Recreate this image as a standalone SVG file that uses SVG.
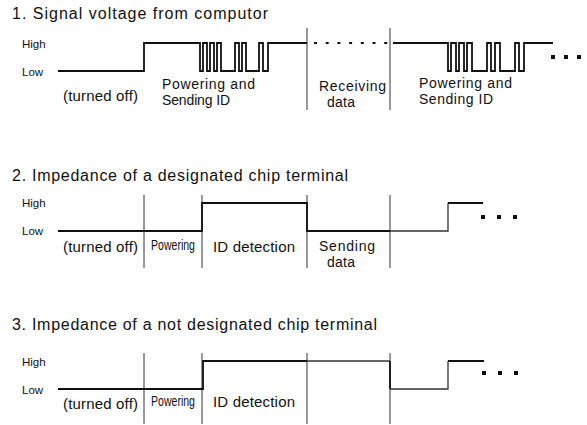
<svg xmlns="http://www.w3.org/2000/svg" width="587" height="425" viewBox="0 0 587 425">
<style>
text{font-family:"Liberation Sans",Arial,sans-serif;fill:#111;}
.t{font-size:16px;}
.l{font-size:15px;}
.m{font-size:14px;}
.p{font-size:15px;}
.hl{font-size:11.5px;}
.sig{fill:none;stroke:#111;stroke-width:1.8;stroke-linejoin:miter;}
.sig2{fill:none;stroke:#333;stroke-width:1.3;}
.div{stroke:#333;stroke-width:1;fill:none;}
.dot{fill:#111;}
</style>
<rect width="587" height="425" fill="#fff"/>

<g id="section1">
  <text class="t" x="12" y="19" textLength="256" lengthAdjust="spacing">1. Signal voltage from computor</text>
  <text class="hl" x="22" y="48">High</text>
  <text class="hl" x="22" y="76">Low</text>
  <g id="s1-dividers">
    <line class="div" x1="307" y1="28" x2="307" y2="110"/>
    <line class="div" x1="390" y1="28" x2="390" y2="110"/>
  </g>
  <g id="s1-signal">
    <path class="sig" d="M58,71 H144 V43 H200 V71 H203 V43 H207 V71 H210 V43 H214 V71 H217 V43 H221 V71 H235 V43 H239 V71 H242 V43 H246 V71 H259 V43 H263 V71 H268 V43 H307"/>
    <line x1="314" y1="43" x2="390" y2="43" stroke="#111" stroke-width="1.8" stroke-dasharray="3 8.7"/>
    <path class="sig" d="M393,43 H448 V71 H451 V43 H456 V71 H459 V43 H464 V71 H467 V43 H472 V71 H487 V43 H491 V71 H495 V43 H500 V71 H515 V43 H519 V71 H524 V43 H553"/>
    <rect class="dot" x="551" y="55" width="4" height="4"/>
    <rect class="dot" x="564" y="55" width="4" height="4"/>
    <rect class="dot" x="577" y="55" width="4" height="4"/>
  </g>
  <text class="l" x="63" y="101" textLength="75" lengthAdjust="spacing">(turned off)</text>
  <text class="m" x="162" y="89" textLength="93" lengthAdjust="spacing">Powering and</text>
  <text class="m" x="162" y="105" textLength="68" lengthAdjust="spacing">Sending ID</text>
  <text class="m" x="319" y="91" textLength="67" lengthAdjust="spacing">Receiving</text>
  <text class="m" x="327" y="107" textLength="28" lengthAdjust="spacing">data</text>
  <text class="m" x="419" y="88" textLength="93" lengthAdjust="spacing">Powering and</text>
  <text class="m" x="419" y="104" textLength="74" lengthAdjust="spacing">Sending ID</text>
</g>

<g id="section2">
  <text class="t" x="12" y="181" textLength="336" lengthAdjust="spacing">2. Impedance of a designated chip terminal</text>
  <text class="hl" x="22" y="207">High</text>
  <text class="hl" x="22" y="235">Low</text>
  <g id="s2-dividers">
    <line class="div" x1="144" y1="195" x2="144" y2="268"/>
    <line class="div" x1="202" y1="195" x2="202" y2="268"/>
    <line class="div" x1="307" y1="195" x2="307" y2="268"/>
    <line class="div" x1="390" y1="195" x2="390" y2="268"/>
  </g>
  <g id="s2-signal">
    <path class="sig" d="M58,231 H202 V203 H307 V231 H390"/>
    <path class="sig2" d="M390,231 H448 V203"/>
    <path class="sig" d="M448,203 H483"/>
    <rect class="dot" x="481" y="215" width="4" height="4"/>
    <rect class="dot" x="497" y="215" width="4" height="4"/>
    <rect class="dot" x="513" y="215" width="4" height="4"/>
  </g>
  <text class="l" x="63" y="252" textLength="75" lengthAdjust="spacing">(turned off)</text>
  <text class="p" x="151" y="250" textLength="44" lengthAdjust="spacingAndGlyphs">Powering</text>
  <text class="l" x="213" y="252" textLength="82" lengthAdjust="spacing">ID detection</text>
  <text class="m" x="319" y="251" textLength="56" lengthAdjust="spacing">Sending</text>
  <text class="m" x="327" y="267" textLength="28" lengthAdjust="spacing">data</text>
</g>

<g id="section3">
  <text class="t" x="12" y="330" textLength="365" lengthAdjust="spacing">3. Impedance of a not designated chip terminal</text>
  <text class="hl" x="22" y="366">High</text>
  <text class="hl" x="22" y="394">Low</text>
  <g id="s3-dividers">
    <line class="div" x1="144" y1="353" x2="144" y2="424"/>
    <line class="div" x1="202" y1="353" x2="202" y2="424"/>
    <line class="div" x1="307" y1="353" x2="307" y2="424"/>
    <line class="div" x1="390" y1="353" x2="390" y2="424"/>
  </g>
  <g id="s3-signal">
    <path class="sig" d="M58,389 H203 V361 H307"/>
    <path class="sig2" d="M307,361 H390"/>
    <path class="sig" d="M390,361 V389"/>
    <path class="sig2" d="M390,389 H448 V361"/>
    <path class="sig" d="M448,361 H484"/>
    <rect class="dot" x="482" y="371" width="4" height="4"/>
    <rect class="dot" x="498" y="371" width="4" height="4"/>
    <rect class="dot" x="514" y="371" width="4" height="4"/>
  </g>
  <text class="l" x="63" y="409" textLength="75" lengthAdjust="spacing">(turned off)</text>
  <text class="p" x="151" y="406" textLength="44" lengthAdjust="spacingAndGlyphs">Powering</text>
  <text class="l" x="213" y="407" textLength="82" lengthAdjust="spacing">ID detection</text>
</g>
</svg>
